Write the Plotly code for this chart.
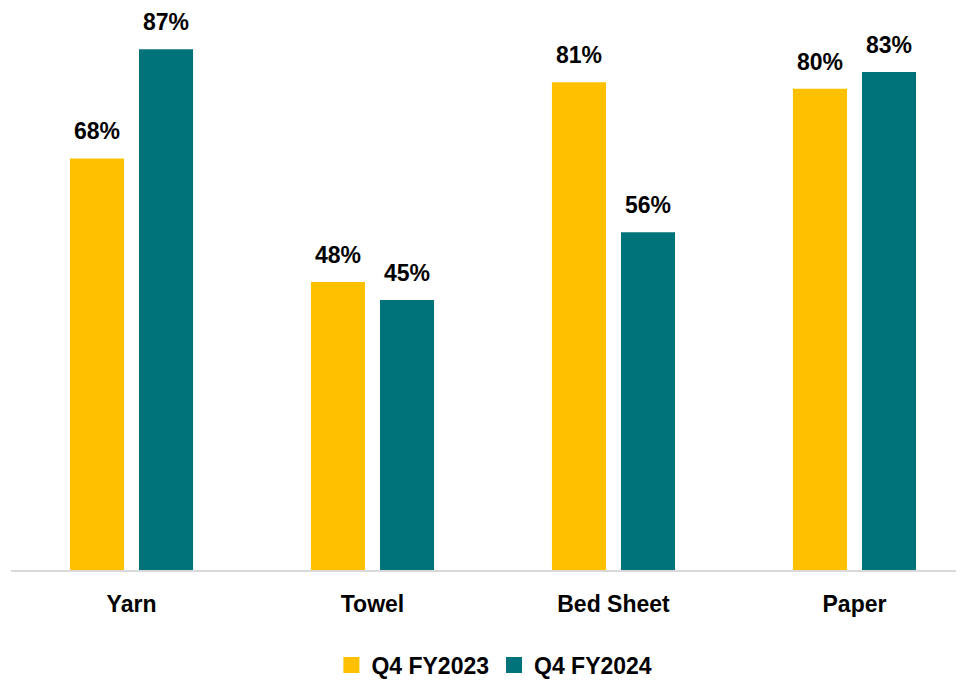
import plotly.graph_objects as go

categories = ["Yarn", "Towel", "Bed Sheet", "Paper"]
series_names = ["Q4 FY2023", "Q4 FY2024"]
# bar heights (percent)
q4_fy2023 = [68.6, 48.0, 81.3, 80.2]
q4_fy2024 = [86.8, 45.0, 56.3, 83.0]
# data labels as printed on the chart
labels_fy2023 = ["68%", "48%", "81%", "80%"]
labels_fy2024 = ["87%", "45%", "56%", "83%"]
colors = ["#FFC000", "#00727A"]

font_family = "Liberation Sans, Arial, sans-serif"
FS = 23
bar_offsets_px = [-34.5, 34.5]

fig = go.Figure()
for name, vals, col in zip(series_names, [q4_fy2023, q4_fy2024], colors):
    fig.add_trace(go.Bar(
        x=categories, y=vals, name=name,
        marker=dict(color=col, line=dict(width=0)),
        showlegend=False,
    ))
# legend entries with larger square symbols
for name, col in zip(series_names, colors):
    fig.add_trace(go.Scatter(
        x=[None], y=[None], mode="markers", name=f"<b>{name}</b>",
        marker=dict(symbol="square", size=16, color=col),
        showlegend=True,
    ))

annotations = []
for vals, labs, dx in zip([q4_fy2023, q4_fy2024], [labels_fy2023, labels_fy2024], bar_offsets_px):
    for cat, v, lab in zip(categories, vals, labs):
        annotations.append(dict(
            x=cat, y=v, xref="x", yref="y", text=f"<b>{lab}</b>",
            showarrow=False, yanchor="bottom", xanchor="center",
            xshift=dx, yshift=12,
            font=dict(size=FS, family=font_family, color="#000000"),
        ))

fig.update_layout(
    width=964, height=680,
    margin=dict(l=3, r=0, t=0, b=118),
    paper_bgcolor="white", plot_bgcolor="white",
    barmode="group", bargap=0.427, bargroupgap=0.217,
    font=dict(family=font_family, color="#000000"),
    showlegend=True,
    legend=dict(orientation="h", x=0.503, xanchor="center", y=-0.169, yanchor="middle",
                font=dict(size=FS, family=font_family, color="#000000"),
                itemsizing="trace", itemwidth=30, traceorder="normal"),
    xaxis=dict(range=[-0.5, 3.4876], showgrid=False, showline=True, linecolor="#D9D9D9",
               linewidth=2, ticks="", ticklabelstandoff=12,
               tickfont=dict(size=FS, family=font_family, color="#000000"),
               tickvals=categories, ticktext=[f"<b>{c}</b>" for c in categories]),
    yaxis=dict(range=[0, 93.67], visible=False, showgrid=False, zeroline=False),
    annotations=annotations,
)

fig.write_html("out.html")
